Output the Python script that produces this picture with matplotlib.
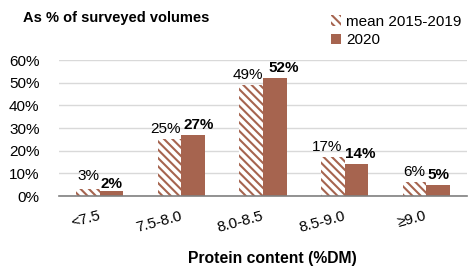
import numpy as np
import matplotlib
matplotlib.use("Agg")
import matplotlib.pyplot as plt
from matplotlib.transforms import offset_copy

plt.rcParams['font.family'] = ['Liberation Sans', 'DejaVu Sans']
plt.rcParams['hatch.linewidth'] = 1.5

categories = ["<7.5", "7.5-8.0", "8.0-8.5", "8.5-9.0", "≥9.0"]
mean_1519 = [3, 25, 49, 17, 6]
y2020 = [2, 27, 52, 14, 5]

# label nudges in pixels (hand-placed labels in the original)
nudge_mean = [(0, 6), (-4, 3), (-3, 3), (-6, 3), (0, 3)]
nudge_2020 = [(0, 0), (5, 3), (9, 3), (4, 3), (0, 3)]

BROWN = "#A6644F"

fig = plt.figure(figsize=(4.68, 2.70), dpi=100)
ax = fig.add_axes([59 / 468, 1 - 196 / 270, 408 / 468, 136 / 270])

x = np.arange(len(categories))
w = 0.29
b1 = ax.bar(x - w / 2, mean_1519, w, color="white", edgecolor=BROWN,
            hatch="\\\\\\\\", linewidth=0, label="mean 2015-2019")
b2 = ax.bar(x + w / 2, y2020, w, color=BROWN, linewidth=0, label="2020")

for xi, v, (dx, dy) in zip(x - w / 2, mean_1519, nudge_mean):
    tr = offset_copy(ax.transData, fig=fig, x=dx * 0.72, y=dy * 0.72, units="points")
    ax.text(xi, v, f"{v}%", ha="center", va="bottom", fontsize=11, transform=tr)
for xi, v, (dx, dy) in zip(x + w / 2, y2020, nudge_2020):
    tr = offset_copy(ax.transData, fig=fig, x=dx * 0.72, y=dy * 0.72, units="points")
    ax.text(xi, v, f"{v}%", ha="center", va="bottom", fontsize=11,
            fontweight="bold", transform=tr)

ax.set_ylim(0, 60)
ax.set_xlim(-0.5, len(categories) - 0.5)
ax.set_yticks(range(0, 61, 10))
ax.set_yticklabels([f"{t}%" for t in range(0, 61, 10)], fontsize=11)
ax.set_xticks(x)
ax.set_xticklabels(categories, rotation=15, fontsize=11, ha="right",
                   va="center", rotation_mode="anchor")
ax.tick_params(axis="both", length=0)
ax.tick_params(axis="x", pad=14)
ax.tick_params(axis="y", pad=14)
ax.grid(axis="y", color="#D9D9D9", lw=1)
ax.set_axisbelow(True)
for s in ["top", "right", "left"]:
    ax.spines[s].set_visible(False)
ax.spines["bottom"].set_color("#808080")
ax.spines["bottom"].set_linewidth(1.2)

fig.text(23 / 468, 1 - 18 / 270, "As % of surveyed volumes", fontsize=10.5,
         fontweight="bold", va="center", ha="left")
fig.text(272 / 468, 1 - 258 / 270, "Protein content (%DM)", fontsize=11.3,
         fontweight="bold", va="center", ha="center")

fig.legend(handles=[b1, b2], loc="upper left", bbox_to_anchor=(320 / 468, 1 - 4 / 270),
           frameon=False, fontsize=11, handlelength=0.7, handleheight=0.7,
           handletextpad=0.3, labelspacing=0.3, borderpad=0.2)

fig.savefig("out.png", dpi=100)
